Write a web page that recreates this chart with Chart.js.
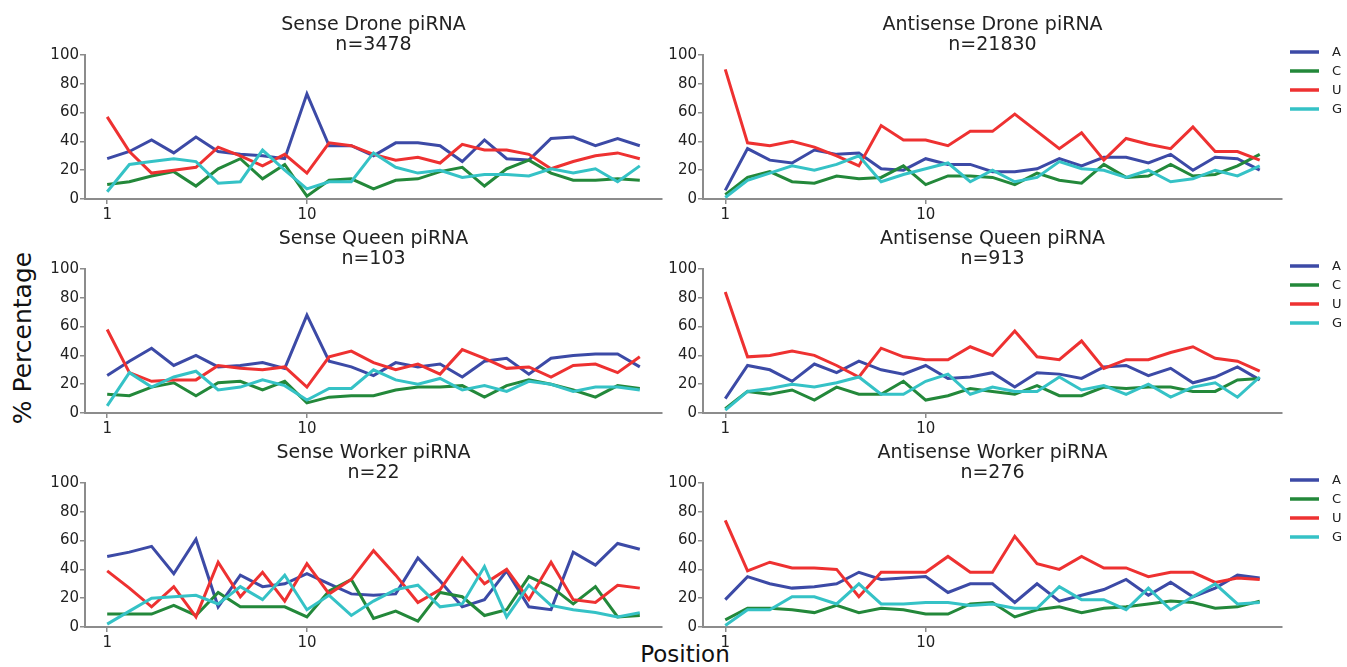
<!DOCTYPE html>
<html lang="en">
<head>
  <meta charset="UTF-8" />
  <title>piRNA nucleotide composition by position</title>
  <script src="https://cdn.jsdelivr.net/npm/chart.js"></script>
  <style>
    body { margin: 0; background: #fff; font-family: 'DejaVu Sans', sans-serif; }
    #page { position: relative; width: 1347px; height: 667px; overflow: hidden; }
    .panel { position: absolute; }
    .axis-title { position: absolute; font-size: 23px; color: #111; white-space: nowrap; }
  </style>
</head>
<body>
  <div id="page">
    <div class="axis-title" style="left:22px; top:338px; font-size:25px; transform: translate(-50%, -50%) rotate(-90deg);">% Percentage</div>
    <div class="axis-title" style="left:685px; top:654px; transform: translate(-50%, -50%);">Position</div>
  </div>

  <script>
    // nucleotide position along the piRNA
    const positions = [1, 2, 3, 4, 5, 6, 7, 8, 9, 10, 11, 12, 13, 14, 15, 16, 17, 18, 19, 20, 21, 22, 23, 24, 25]
    const xTicks = [1, 10]
    const yTicks = [0, 20, 40, 60, 80, 100]
    const bases = ['A', 'C', 'U', 'G']

    // Sense Drone piRNA, n=3478
    const senseDroneA = [28, 33, 41, 32, 43, 33, 31, 30, 28, 73, 37, 37, 30, 39, 39, 37, 26, 41, 28, 27, 42, 43, 37, 42, 37]
    const senseDroneC = [10, 12, 16, 19, 9, 21, 28, 14, 24, 2, 13, 14, 7, 13, 14, 19, 22, 9, 21, 27, 18, 13, 13, 14, 13]
    const senseDroneU = [57, 33, 18, 20, 22, 36, 30, 23, 31, 18, 39, 37, 31, 27, 29, 25, 38, 34, 34, 31, 21, 26, 30, 32, 28]
    const senseDroneG = [5, 24, 26, 28, 26, 11, 12, 34, 20, 7, 12, 12, 32, 22, 18, 20, 15, 17, 17, 16, 21, 18, 21, 12, 23]

    // Antisense Drone piRNA, n=21830
    const antiDroneA = [6, 35, 27, 25, 34, 31, 32, 21, 20, 28, 24, 24, 19, 19, 21, 28, 23, 29, 29, 25, 31, 20, 29, 28, 20]
    const antiDroneC = [3, 15, 19, 12, 11, 16, 14, 15, 23, 10, 16, 16, 15, 10, 18, 13, 11, 24, 15, 16, 24, 16, 17, 23, 31]
    const antiDroneU = [90, 39, 37, 40, 36, 30, 23, 51, 41, 41, 37, 47, 47, 59, 47, 35, 46, 27, 42, 38, 35, 50, 33, 33, 27]
    const antiDroneG = [1, 13, 18, 23, 20, 24, 30, 12, 17, 21, 25, 12, 20, 12, 15, 26, 21, 20, 15, 20, 12, 14, 20, 16, 23]

    // Sense Queen piRNA, n=103
    const senseQueenA = [26, 36, 45, 33, 40, 32, 33, 35, 31, 68, 36, 32, 26, 35, 32, 34, 25, 36, 38, 27, 38, 40, 41, 41, 32]
    const senseQueenC = [13, 12, 18, 21, 12, 21, 22, 16, 22, 7, 11, 12, 12, 16, 18, 18, 19, 11, 19, 23, 20, 16, 11, 19, 17]
    const senseQueenU = [58, 28, 22, 23, 23, 33, 31, 30, 32, 18, 39, 43, 35, 30, 34, 27, 44, 38, 31, 32, 25, 33, 34, 28, 39]
    const senseQueenG = [5, 28, 18, 25, 29, 16, 18, 23, 19, 9, 17, 17, 30, 23, 20, 24, 16, 19, 15, 22, 20, 15, 18, 18, 16]

    // Antisense Queen piRNA, n=913
    const antiQueenA = [10, 33, 30, 22, 34, 28, 36, 30, 27, 33, 24, 25, 28, 18, 28, 27, 24, 32, 33, 26, 31, 21, 25, 32, 23]
    const antiQueenC = [3, 15, 13, 16, 9, 18, 13, 13, 22, 9, 12, 17, 15, 13, 19, 12, 12, 18, 17, 18, 18, 15, 15, 23, 24]
    const antiQueenU = [84, 39, 40, 43, 40, 33, 25, 45, 39, 37, 37, 46, 40, 57, 39, 37, 50, 31, 37, 37, 42, 46, 38, 36, 29]
    const antiQueenG = [2, 15, 17, 20, 18, 21, 25, 13, 13, 22, 27, 13, 18, 15, 15, 25, 16, 19, 13, 20, 11, 18, 21, 11, 25]

    // Sense Worker piRNA, n=22
    const senseWorkerA = [49, 52, 56, 37, 61, 14, 36, 28, 30, 37, 30, 23, 22, 23, 48, 32, 14, 19, 39, 14, 12, 52, 43, 58, 54]
    const senseWorkerC = [9, 9, 9, 15, 8, 24, 14, 14, 14, 7, 25, 33, 6, 11, 4, 24, 21, 8, 12, 35, 28, 16, 28, 7, 8]
    const senseWorkerU = [39, 27, 14, 28, 7, 45, 21, 38, 18, 44, 23, 33, 53, 36, 17, 26, 48, 30, 40, 19, 45, 19, 17, 29, 27]
    const senseWorkerG = [2, 11, 20, 21, 22, 16, 28, 19, 36, 12, 22, 8, 18, 26, 29, 14, 16, 42, 7, 29, 15, 12, 10, 7, 10]

    // Antisense Worker piRNA, n=276
    const antiWorkerA = [19, 35, 30, 27, 28, 30, 38, 33, 34, 35, 24, 30, 30, 17, 30, 18, 22, 26, 33, 22, 31, 21, 27, 36, 34]
    const antiWorkerC = [5, 13, 13, 12, 10, 15, 10, 13, 12, 9, 9, 16, 17, 7, 12, 14, 10, 13, 14, 16, 18, 17, 13, 14, 18]
    const antiWorkerU = [74, 39, 45, 41, 41, 40, 21, 38, 38, 38, 49, 38, 38, 63, 44, 40, 49, 41, 41, 35, 38, 38, 31, 34, 33]
    const antiWorkerG = [1, 12, 12, 21, 21, 16, 30, 16, 16, 17, 17, 15, 16, 13, 13, 28, 19, 19, 12, 27, 12, 21, 30, 16, 17]

    const colors = { A: '#3c4aa6', C: '#23883a', U: '#ee3131', G: '#35c2c6' }
    const font = 'DejaVu Sans'
    const axisGray = '#8c8c8c'

    // draws the two-line panel title and, for the right column, the legend
    const panelTitle = {
      id: 'panelTitle',
      afterDraw(chart, args, opts) {
        const { ctx, chartArea } = chart
        const cx = (chartArea.left + chartArea.right) / 2
        ctx.save()
        ctx.fillStyle = '#222'
        ctx.textAlign = 'center'
        ctx.textBaseline = 'middle'
        ctx.font = `19px "${font}"`
        ctx.fillText(opts.title, cx, chartArea.top - 30)
        ctx.fillText(opts.sub, cx, chartArea.top - 10)
        if (opts.legend) {
          ctx.textAlign = 'left'
          ctx.font = `13px "${font}"`
          chart.data.datasets.forEach((ds, i) => {
            const y = chartArea.top - 3 + i * 19
            ctx.strokeStyle = ds.borderColor
            ctx.lineWidth = 3.5
            ctx.beginPath()
            ctx.moveTo(chartArea.right + 8, y)
            ctx.lineTo(chartArea.right + 37, y)
            ctx.stroke()
            ctx.fillStyle = '#222'
            ctx.fillText(ds.label, chartArea.right + 50, y + 1)
          })
        }
        ctx.restore()
      }
    }

    const panels = [
      { title: 'Sense Drone piRNA', sub: 'n=3478', series: [senseDroneA, senseDroneC, senseDroneU, senseDroneG], col: 0, row: 0 },
      { title: 'Antisense Drone piRNA', sub: 'n=21830', series: [antiDroneA, antiDroneC, antiDroneU, antiDroneG], col: 1, row: 0 },
      { title: 'Sense Queen piRNA', sub: 'n=103', series: [senseQueenA, senseQueenC, senseQueenU, senseQueenG], col: 0, row: 1 },
      { title: 'Antisense Queen piRNA', sub: 'n=913', series: [antiQueenA, antiQueenC, antiQueenU, antiQueenG], col: 1, row: 1 },
      { title: 'Sense Worker piRNA', sub: 'n=22', series: [senseWorkerA, senseWorkerC, senseWorkerU, senseWorkerG], col: 0, row: 2 },
      { title: 'Antisense Worker piRNA', sub: 'n=276', series: [antiWorkerA, antiWorkerC, antiWorkerU, antiWorkerG], col: 1, row: 2 }
    ]

    // plot area boxes in page pixels
    const rowTop = [55, 269, 483]
    const plotH = 144
    const colBox = [
      { left: 0, width: 680, axisW: 85, padRight: 18 },
      { left: 620, width: 727, axisW: 83, padRight: 65 }
    ]

    const page = document.getElementById('page')

    panels.forEach(p => {
      const box = colBox[p.col]
      const wrap = document.createElement('div')
      wrap.className = 'panel'
      wrap.style.left = box.left + 'px'
      wrap.style.top = (rowTop[p.row] - 55) + 'px'
      wrap.style.width = box.width + 'px'
      wrap.style.height = (plotH + 55 + 28) + 'px'
      const canvas = document.createElement('canvas')
      wrap.appendChild(canvas)
      page.appendChild(wrap)

      new Chart(canvas, {
        type: 'line',
        data: {
          datasets: p.series.map((vals, i) => ({
            label: bases[i],
            data: vals.map((v, j) => ({ x: positions[j], y: v })),
            borderColor: colors[bases[i]],
            borderWidth: 3,
            pointRadius: 0,
            tension: 0,
            fill: false,
            clip: 4,
            order: 4 - i
          }))
        },
        options: {
          responsive: true,
          maintainAspectRatio: false,
          animation: false,
          layout: { padding: { top: 55, right: box.padRight, left: 0, bottom: 0 } },
          plugins: {
            legend: { display: false },
            tooltip: { enabled: false },
            panelTitle: { title: p.title, sub: p.sub, legend: p.col === 1 }
          },
          scales: {
            x: {
              type: 'linear',
              min: 0,
              max: 26,
              afterBuildTicks: s => { s.ticks = xTicks.map(v => ({ value: v })) },
              afterFit: s => { s.height = 28 },
              grid: { drawOnChartArea: false, drawTicks: true, tickLength: 5, color: axisGray, lineWidth: 1.5 },
              border: { color: axisGray, width: 2 },
              ticks: { font: { family: font, size: 15 }, color: '#222', padding: 2, maxRotation: 0 }
            },
            y: {
              min: 0,
              max: 100,
              afterBuildTicks: s => { s.ticks = yTicks.map(v => ({ value: v })) },
              afterFit: s => { s.width = box.axisW },
              grid: { drawOnChartArea: false, drawTicks: true, tickLength: 5, color: axisGray, lineWidth: 1.5 },
              border: { color: axisGray, width: 2 },
              ticks: { font: { family: font, size: 15 }, color: '#222', padding: 1 }
            }
          }
        },
        plugins: [panelTitle]
      })
    })
  </script>
</body>
</html>
